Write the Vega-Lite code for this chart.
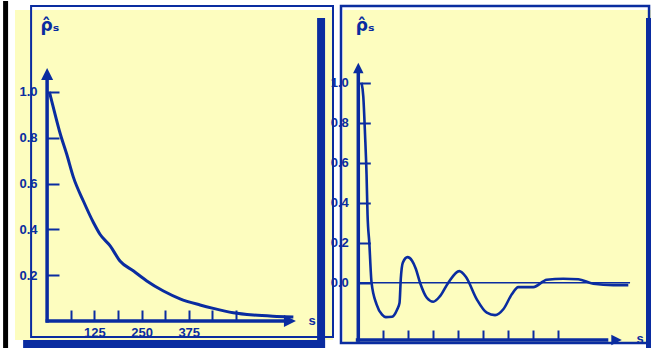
{
  "$schema": "https://vega.github.io/schema/vega-lite/v6.json",
  "background": "white",
  "padding": {"left": 3, "top": 0, "right": 0, "bottom": 0},
  "spacing": 10,
  "bounds": "flush",
  "config": {"view": {"fill": "#fdfdbf", "stroke": null}, "font": "Liberation Sans"},
  "hconcat": [
    {
      "width": 318,
      "height": 330,
      "data": {"values": [
        {"s": 6, "rho": 1.0}, {"s": 21, "rho": 0.903}, {"s": 34, "rho": 0.822}, {"s": 52, "rho": 0.728},
        {"s": 70, "rho": 0.626}, {"s": 96, "rho": 0.524}, {"s": 123, "rho": 0.429}, {"s": 140, "rho": 0.379},
        {"s": 167, "rho": 0.328}, {"s": 193, "rho": 0.262}, {"s": 229, "rho": 0.218}, {"s": 264, "rho": 0.175},
        {"s": 308, "rho": 0.131}, {"s": 352, "rho": 0.097}, {"s": 405, "rho": 0.07}, {"s": 440, "rho": 0.055},
        {"s": 493, "rho": 0.036}, {"s": 546, "rho": 0.026}, {"s": 608, "rho": 0.02}, {"s": 652, "rho": 0.017}
      ]},
      "layer": [
        {
          "data": {"values": [{}]},
          "mark": {"type": "rect", "color": "#000000", "clip": false},
          "encoding": {
            "x": {"datum": -116.5, "type": "quantitative",
              "scale": {"domain": [-85, 757], "nice": false, "zero": false},
              "axis": {"orient": "bottom", "offset": -19, "domain": false, "grid": false,
                "values": [62.5, 125, 187.5, 250, 312.5, 375, 437.5, 500],
                "labelExpr": "datum.value == 125 || datum.value == 250 || datum.value == 375 ? datum.label : ''",
                "labelOverlap": false, "labelFlush": false,
                "tickSize": -11, "tickWidth": 2, "tickColor": "#0a2ca0",
                "labelPadding": 16, "labelColor": "#0a2ca0", "labelFontWeight": "bold", "labelFontSize": 13,
                "title": "s", "titleX": 293, "titleY": -1, "titleAlign": "left", "titleBaseline": "middle",
                "titleAngle": 0, "titleColor": "#0a2ca0", "titleFontWeight": "bold", "titleFontSize": 13}},
            "x2": {"datum": -103.3},
            "y": {"datum": 1.3974, "type": "quantitative",
              "scale": {"domain": [-0.083, 1.358], "nice": false, "zero": false},
              "axis": {"orient": "left", "offset": -32, "domain": false, "grid": false,
                "values": [0.2, 0.4, 0.6, 0.8, 1.0], "format": ".1f",
                "labelOverlap": false, "labelFlush": false,
                "tickSize": -12, "tickWidth": 2, "tickColor": "#0a2ca0",
                "labelPadding": 22, "labelColor": "#0a2ca0", "labelFontWeight": "bold", "labelFontSize": 13,
                "title": "ρ̂ₛ", "titleX": -7, "titleY": 24, "titleAlign": "left", "titleBaseline": "bottom",
                "titleAngle": 0, "titleColor": "#0a2ca0", "titleFont": "DejaVu Sans", "titleFontWeight": "bold", "titleFontSize": 17}},
            "y2": {"datum": -0.1223}
          }
        },
        {
          "data": {"values": [{}]},
          "mark": {"type": "rect", "filled": false, "color": "#0a2ca0", "strokeWidth": 2, "clip": false},
          "encoding": {
            "x": {"datum": -42.4, "type": "quantitative"},
            "x2": {"datum": 757},
            "y": {"datum": 1.3755, "type": "quantitative"},
            "y2": {"datum": -0.07}
          }
        },
        {
          "data": {"values": [{}]},
          "mark": {"type": "rect", "color": "#0a2ca0", "clip": false},
          "encoding": {
            "x": {"datum": 714.9, "type": "quantitative"},
            "x2": {"datum": 736},
            "y": {"datum": 1.323, "type": "quantitative"},
            "y2": {"datum": -0.118}
          }
        },
        {
          "data": {"values": [{}]},
          "mark": {"type": "rect", "color": "#0a2ca0", "clip": false},
          "encoding": {
            "x": {"datum": -63.5, "type": "quantitative"},
            "x2": {"datum": 736},
            "y": {"datum": -0.083, "type": "quantitative"},
            "y2": {"datum": -0.118}
          }
        },
        {
          "data": {"values": [{}]},
          "mark": {"type": "rule", "color": "#0a2ca0", "strokeWidth": 3.5},
          "encoding": {
            "x": {"datum": 0, "type": "quantitative"},
            "y": {"datum": -0.007, "type": "quantitative"},
            "y2": {"datum": 1.06}
          }
        },
        {
          "data": {"values": [{}]},
          "mark": {"type": "rule", "color": "#0a2ca0", "strokeWidth": 3.5},
          "encoding": {
            "x": {"datum": -4, "type": "quantitative"},
            "x2": {"datum": 636},
            "y": {"datum": 0, "type": "quantitative"}
          }
        },
        {
          "mark": {"type": "line", "color": "#0a2ca0", "strokeWidth": 3, "interpolate": "monotone"},
          "encoding": {
            "x": {"field": "s", "type": "quantitative"},
            "y": {"field": "rho", "type": "quantitative"}
          }
        },
        {
          "data": {"values": [{}]},
          "mark": {"type": "point", "shape": "M0,-1L1,1L-1,1Z", "size": 144, "filled": true, "opacity": 1, "color": "#0a2ca0"},
          "encoding": {
            "x": {"datum": 0, "type": "quantitative"},
            "y": {"datum": 1.0786, "type": "quantitative"}
          }
        },
        {
          "data": {"values": [{}]},
          "mark": {"type": "point", "shape": "M1,0L-1,-1L-1,1Z", "size": 144, "filled": true, "opacity": 1, "color": "#0a2ca0"},
          "encoding": {
            "x": {"datum": 643, "type": "quantitative"},
            "y": {"datum": 0, "type": "quantitative"}
          }
        }
      ]
    },
    {
      "width": 308,
      "height": 334,
      "data": {"values": [
        {"s": 1.3, "rho": 1.0}, {"s": 2.0, "rho": 0.93}, {"s": 2.7, "rho": 0.74}, {"s": 3.3, "rho": 0.54},
        {"s": 3.7, "rho": 0.34}, {"s": 4.4, "rho": 0.2}, {"s": 5.3, "rho": 0.0}, {"s": 7.3, "rho": -0.108},
        {"s": 9.5, "rho": -0.16}, {"s": 11, "rho": -0.172}, {"s": 13.5, "rho": -0.17}, {"s": 15.5, "rho": -0.135},
        {"s": 16.5, "rho": -0.1}, {"s": 17.0, "rho": 0.02}, {"s": 17.8, "rho": 0.1}, {"s": 19.7, "rho": 0.128},
        {"s": 21.5, "rho": 0.11}, {"s": 23, "rho": 0.07}, {"s": 24.7, "rho": 0.0}, {"s": 27.4, "rho": -0.075},
        {"s": 30, "rho": -0.095}, {"s": 32.7, "rho": -0.067}, {"s": 36, "rho": 0.0}, {"s": 40.4, "rho": 0.058},
        {"s": 43, "rho": 0.03}, {"s": 47.4, "rho": -0.083}, {"s": 51.4, "rho": -0.15}, {"s": 54.7, "rho": -0.162},
        {"s": 58, "rho": -0.133}, {"s": 61.4, "rho": -0.058}, {"s": 64, "rho": -0.022}, {"s": 70, "rho": -0.022},
        {"s": 75.4, "rho": 0.015}, {"s": 82, "rho": 0.02}, {"s": 88, "rho": 0.017}, {"s": 94, "rho": -0.005},
        {"s": 102, "rho": -0.012}, {"s": 108, "rho": -0.012}
      ]},
      "layer": [
        {
          "data": {"values": [{}]},
          "mark": {"type": "rect", "filled": false, "color": "#0a2ca0", "strokeWidth": 2.5, "clip": false},
          "encoding": {
            "x": {"datum": -6.92, "type": "quantitative",
              "scale": {"domain": [-6.12, 117.08], "nice": false, "zero": false},
              "axis": {"orient": "bottom", "offset": -4, "domain": false, "grid": false, "labels": false,
                "values": [10, 20, 30, 40, 50, 60, 70, 80],
                "tickSize": -10, "tickWidth": 2, "tickColor": "#0a2ca0",
                "title": "s", "titleX": 293, "titleY": -2, "titleAlign": "left", "titleBaseline": "middle",
                "titleAngle": 0, "titleColor": "#0a2ca0", "titleFontWeight": "bold", "titleFontSize": 13}},
            "x2": {"datum": 116.3},
            "y": {"datum": 1.3835, "type": "quantitative",
              "scale": {"domain": [-0.3065, 1.3635], "nice": false, "zero": false},
              "axis": {"orient": "left", "offset": -15.3, "domain": false, "grid": false,
                "values": [0, 0.2, 0.4, 0.6, 0.8, 1.0], "format": ".1f",
                "labelOverlap": false, "labelFlush": false,
                "tickSize": -12, "tickWidth": 2, "tickColor": "#0a2ca0",
                "labelPadding": 22, "labelColor": "#0a2ca0", "labelFontWeight": "bold", "labelFontSize": 13,
                "title": "ρ̂ₛ", "titleX": -3, "titleY": 24, "titleAlign": "left", "titleBaseline": "bottom",
                "titleAngle": 0, "titleColor": "#0a2ca0", "titleFont": "DejaVu Sans", "titleFontWeight": "bold", "titleFontSize": 17}},
            "y2": {"datum": -0.3015}
          }
        },
        {
          "data": {"values": [{}]},
          "mark": {"type": "rect", "color": "#0a2ca0", "clip": false},
          "encoding": {
            "x": {"datum": 115.08, "type": "quantitative"},
            "x2": {"datum": 117.08},
            "y": {"datum": 1.3235, "type": "quantitative"},
            "y2": {"datum": -0.3315}
          }
        },
        {
          "data": {"values": [{}]},
          "mark": {"type": "rule", "color": "#0a2ca0", "strokeWidth": 3.5},
          "encoding": {
            "x": {"datum": 0, "type": "quantitative"},
            "y": {"datum": -0.295, "type": "quantitative"},
            "y2": {"datum": 1.05}
          }
        },
        {
          "data": {"values": [{}]},
          "mark": {"type": "rule", "color": "#0a2ca0", "strokeWidth": 3.5},
          "encoding": {
            "x": {"datum": -1, "type": "quantitative"},
            "x2": {"datum": 100},
            "y": {"datum": -0.2865, "type": "quantitative"}
          }
        },
        {
          "data": {"values": [{}]},
          "mark": {"type": "rule", "color": "#0a2ca0", "strokeWidth": 1.5},
          "encoding": {
            "x": {"datum": 0, "type": "quantitative"},
            "x2": {"datum": 108.7},
            "y": {"datum": 0, "type": "quantitative"}
          }
        },
        {
          "mark": {"type": "line", "color": "#0a2ca0", "strokeWidth": 2.6, "interpolate": "monotone"},
          "encoding": {
            "x": {"field": "s", "type": "quantitative"},
            "y": {"field": "rho", "type": "quantitative"}
          }
        },
        {
          "data": {"values": [{}]},
          "mark": {"type": "point", "shape": "M0,-1L1,1L-1,1Z", "size": 110, "filled": true, "opacity": 1, "color": "#0a2ca0"},
          "encoding": {
            "x": {"datum": 0, "type": "quantitative"},
            "y": {"datum": 1.0735, "type": "quantitative"}
          }
        },
        {
          "data": {"values": [{}]},
          "mark": {"type": "point", "shape": "M1,0L-1,-1L-1,1Z", "size": 110, "filled": true, "opacity": 1, "color": "#0a2ca0"},
          "encoding": {
            "x": {"datum": 103.3, "type": "quantitative"},
            "y": {"datum": -0.2865, "type": "quantitative"}
          }
        }
      ]
    }
  ]
}
